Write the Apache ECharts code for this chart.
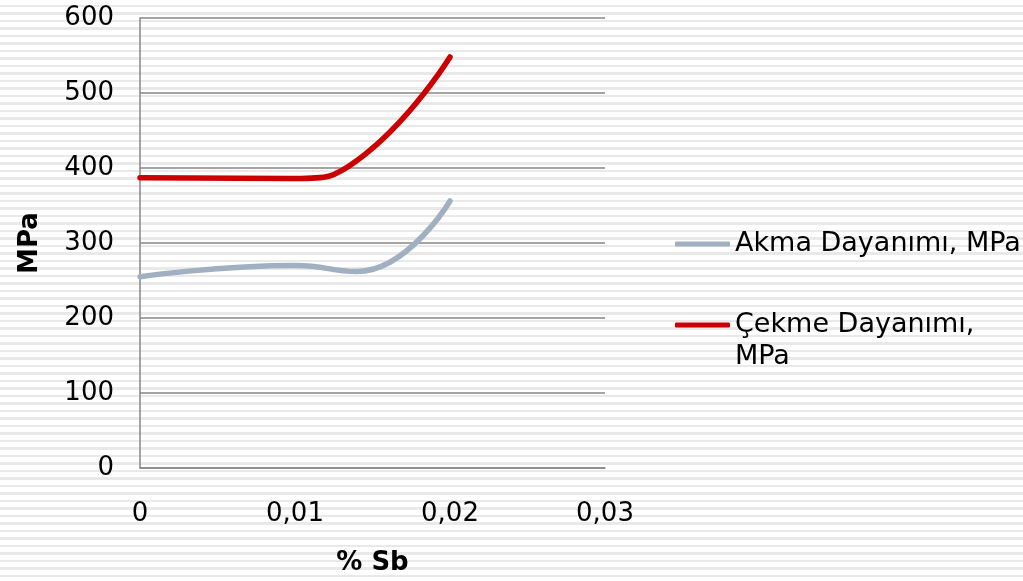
<!DOCTYPE html>
<html>
<head>
<meta charset="utf-8">
<script src="https://cdn.jsdelivr.net/npm/echarts@6/dist/echarts.min.js"></script>
<style>
  html, body { margin: 0; padding: 0; }
  #chart {
    width: 1023px; height: 581px;
    background: repeating-linear-gradient(to bottom, #ffffff 0px, #ffffff 5px, #e9e9e9 5px, #e9e9e9 7.5px);
  }
</style>
</head>
<body>
<div id="chart"></div>
<script>
const sbValues = [0, 0.01, 0.014, 0.02];
const akmaValues = [255, 270, 262, 356];
const cekmeValues = [387, 386, 410, 548];
const xTicks = [0, 0.01, 0.02, 0.03];
const seriesNames = ['Akma Dayanımı, MPa', 'Çekme Dayanımı,\nMPa'];

const font = 'DejaVu Sans, Verdana, sans-serif';
const gridColor = '#868686';

const chart = echarts.init(document.getElementById('chart'), null, { renderer: 'canvas' });

chart.setOption({
  backgroundColor: 'transparent',
  animation: false,
  grid: { left: 140, right: 418, top: 18, bottom: 112, containLabel: false },
  xAxis: {
    type: 'value',
    min: xTicks[0], max: xTicks[xTicks.length - 1], interval: 0.01,
    name: '% Sb', nameLocation: 'middle', nameGap: 82,
    nameTextStyle: { fontFamily: font, fontSize: 26, fontWeight: 'bold', color: '#000' },
    axisLine: { show: true, lineStyle: { color: gridColor, width: 1.5 } },
    axisTick: { show: false },
    splitLine: { show: false },
    axisLabel: {
      fontFamily: font, fontSize: 26, color: '#000', margin: 33,
      formatter: v => String(Number(v.toFixed(2))).replace('.', ',')
    }
  },
  yAxis: {
    type: 'value', min: 0, max: 600, interval: 100,
    name: 'MPa', nameLocation: 'middle', nameGap: 97, nameRotate: 90,
    nameTextStyle: { fontFamily: font, fontSize: 26, fontWeight: 'bold', color: '#000' },
    axisLine: { show: true, lineStyle: { color: gridColor, width: 1.5 } },
    axisTick: { show: false },
    splitLine: { show: true, lineStyle: { color: gridColor, width: 1.5 } },
    axisLabel: { fontFamily: font, fontSize: 26, color: '#000', margin: 26 }
  },
  legend: [
    {
      data: [seriesNames[0]],
      left: 675, top: 228, padding: 0,
      icon: 'roundRect', itemWidth: 55, itemHeight: 5,
      textStyle: { fontFamily: font, fontSize: 27, color: '#000', lineHeight: 32 }
    },
    {
      data: [seriesNames[1]],
      left: 675, top: 277, padding: 0,
      icon: 'roundRect', itemWidth: 55, itemHeight: 5,
      formatter: name => ' \n' + name,
      textStyle: { fontFamily: font, fontSize: 27, color: '#000', lineHeight: 32 }
    }
  ],
  series: [
    {
      name: seriesNames[0], type: 'line', smooth: 0.5, symbol: 'none',
      data: sbValues.map((x, i) => [x, akmaValues[i]]),
      lineStyle: { color: '#A0B0C0', width: 5.5, cap: 'round' },
      itemStyle: { color: '#A0B0C0' }
    },
    {
      name: seriesNames[1], type: 'line', smooth: 0.5, symbol: 'none',
      data: sbValues.map((x, i) => [x, cekmeValues[i]]),
      lineStyle: { color: '#CC0000', width: 5.5, cap: 'round' },
      itemStyle: { color: '#CC0000' }
    }
  ]
});
</script>
</body>
</html>
